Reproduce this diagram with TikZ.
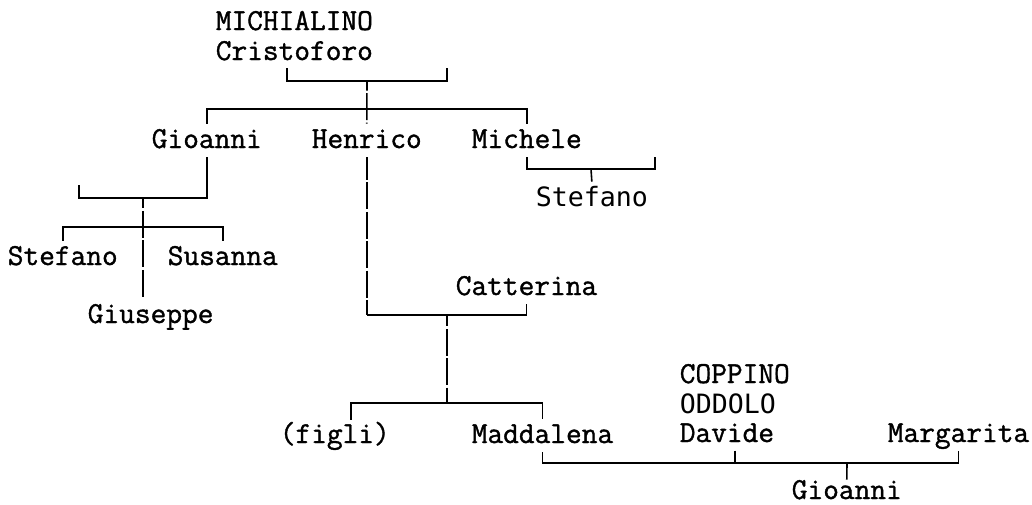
\documentclass[tikz,border=0pt]{standalone}
\usepackage{fontspec}
\newfontfamily\treemono[FakeBold=1.2]{Latin Modern Mono}
\newfontfamily\sansmono{DejaVu Sans Mono}
\begin{document}
\begin{tikzpicture}[x=1pt,y=-1pt, line width=1.6pt,
  every node/.style={anchor=base west, inner xsep=0pt, inner ysep=1.5pt, text height=22pt, text depth=7pt, font=\fontsize{30.5}{36}\selectfont\treemono},
  altname/.style={font=\fontsize{26.6}{32}\selectfont\sansmono},
  vbar/.style={dash pattern=on 26.95pt off 2.5pt}]
\useasboundingbox (0,0) rectangle (1032,504);

% Names
\node (michialino) at (215,30) {MICHIALINO};
\node (cristoforo) at (215,60) {Cristoforo};
\node (gioanni) at (151,148) {Gioanni};
\node (henrico) at (311,148) {Henrico};
\node (michele) at (471,148) {Michele};
\node[altname] (stefanoM) at (535,206) {Stefano};
\node (stefanoG) at (7,265) {Stefano};
\node (susanna) at (167,265) {Susanna};
\node (giuseppe) at (87,323) {Giuseppe};
\node (catterina) at (455,295) {Catterina};
\node (figli) at (279,443) {(figli)};
\node (maddalena) at (471,443) {Maddalena};
\node (coppino) at (679,383) {COPPINO};
\node[altname] (oddolo) at (679,413) {ODDOLO};
\node (davide) at (679,442) {Davide};
\node (margarita) at (887,442) {Margarita};
\node[text depth=2pt] (gioanniC) at (791,499) {Gioanni};

% Cristoforo's children
\coordinate (crisL) at (287,68);
\coordinate (crisR) at (447,68);
\coordinate (crisJ) at (367,81);
\draw (crisL) |- (crisJ) -| (crisR);
\draw[vbar, dash phase=17.3] (crisJ) -- (henrico.north);
\draw (gioanni.north) -- ++(0,-14.5) -| (michele.north);

% Gioanni's children
\coordinate (gioL) at (79,185);
\coordinate (gioJ) at (143,198);
\draw (gioanni.south) |- (gioJ) -| (gioL);
\draw[vbar, dash phase=16.5] (gioJ) -- (giuseppe.north -| gioJ);
\draw (stefanoG.north) -- ++(0,-13.5) -| (susanna.north);

% Michele's son
\coordinate (micR) at (655,157);
\coordinate (micJ) at (591,169);
\draw (michele.south) |- (micJ) -| (micR);
\draw (micJ) -- (stefanoM.north);

% Henrico and Catterina
\coordinate (catJ) at (447,315);
\coordinate (madJ) at (447,403);
\coordinate (figL) at (351,419.5);
\draw[vbar, dash phase=4.45] (henrico.south) -- (henrico.south |- catJ);
\draw (henrico.south |- catJ) -| (catterina.south);
\draw[vbar, dash phase=15.7] (catJ) -- (madJ);
\draw (figL) |- (madJ) -| (maddalena.north);

% Maddalena, Davide, Margarita
\coordinate (davT) at (735,450.5);
\coordinate (bigJ) at (847,463);
\draw (maddalena.south) |- (bigJ) -| (margarita.south);
\draw (davT) -- (davT |- bigJ);
\draw (bigJ) -- ([yshift=-5pt]gioanniC.north);
\end{tikzpicture}
\end{document}
